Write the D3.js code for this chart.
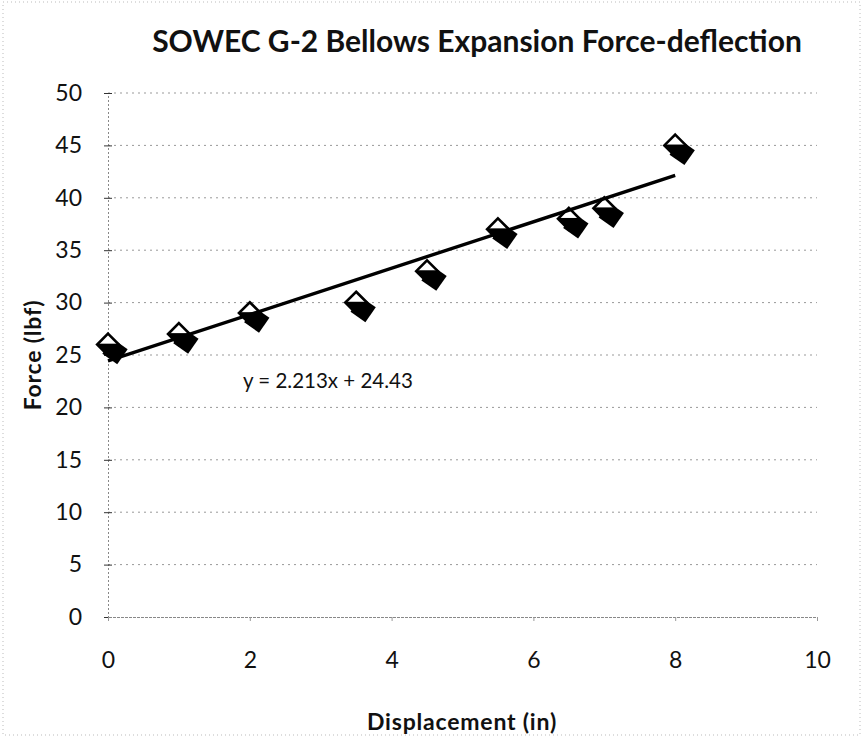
<!DOCTYPE html>
<html lang="en">
  <head>
    <meta charset="utf-8">
    <title>SOWEC G-2 Bellows Expansion Force-deflection</title>
    <script type="text/javascript" src="https://cdn.jsdelivr.net/npm/d3@7"></script>
    <style>
      body { margin: 0; background: #fff; }
      svg { display: block; font-family: Lato, "Open Sans", sans-serif; }
      .axis-title { font-size: 23px; font-weight: bold; fill: #111; letter-spacing: 0.8px; }
    </style>
  </head>
  <body>
    <script type="text/javascript">
      // data
      var displacement = [0, 1, 2, 3.5, 4.5, 5.5, 6.5, 7, 8];
      var force = [26, 27, 29, 30, 33, 37, 38, 39, 45];
      var xTicks = [0, 2, 4, 6, 8, 10];
      var yTicks = [0, 5, 10, 15, 20, 25, 30, 35, 40, 45, 50];
      var slope = 2.213;
      var intercept = 24.43;

      var w = 863;
      var h = 738;

      var svg = d3.select("body")
        .append("svg")
        .attr("width", w)
        .attr("height", h);

      // faint outer border of the chart area
      svg.append("rect")
        .attr("x", 3).attr("y", 2)
        .attr("width", w - 6).attr("height", h - 5)
        .attr("fill", "none")
        .attr("stroke", "#bbb")
        .attr("stroke-dasharray", "1,3");

      var xScale = d3.scaleLinear().domain([0, 10]).range([108, 817]);
      var yScale = d3.scaleLinear().domain([0, 50]).range([617, 93]);

      // gridlines
      svg.selectAll(".grid")
        .data(yTicks.slice(1))
        .enter()
        .append("line")
        .attr("class", "grid")
        .attr("x1", xScale(0))
        .attr("x2", xScale(10))
        .attr("y1", function(d) { return yScale(d); })
        .attr("y2", function(d) { return yScale(d); })
        .attr("stroke", "#999")
        .attr("stroke-width", 1)
        .attr("stroke-dasharray", "2,4");

      // y axis
      var yAxis = d3.axisLeft(yScale)
        .tickValues(yTicks)
        .tickSize(4)
        .tickPadding(22);
      var gy = svg.append("g")
        .attr("transform", "translate(" + xScale(0) + ",0)")
        .call(yAxis);
      gy.select(".domain").attr("stroke", "#888").attr("stroke-dasharray", "2,2");
      gy.selectAll(".tick line").attr("x1", 4).attr("x2", -4).attr("stroke", "#333");
      gy.selectAll("text")
        .attr("fill", "#111")
        .style("font-family", "Lato, sans-serif")
        .style("font-size", "23px");

      // x axis
      var xAxis = d3.axisBottom(xScale)
        .tickValues(xTicks)
        .tickSize(4)
        .tickPadding(31);
      var gx = svg.append("g")
        .attr("transform", "translate(0," + yScale(0) + ")")
        .call(xAxis);
      gx.select(".domain").attr("stroke", "#888").attr("stroke-dasharray", "3,1");
      gx.selectAll(".tick line").attr("stroke", "#999");
      gx.selectAll("text")
        .attr("fill", "#111")
        .style("font-family", "Lato, sans-serif")
        .style("font-size", "23px");

      // marker fill: white top half, black lower half
      var grad = svg.append("defs")
        .append("linearGradient")
        .attr("id", "half")
        .attr("x1", 0).attr("y1", 0).attr("x2", 0).attr("y2", 1);
      grad.append("stop").attr("offset", "44%").attr("stop-color", "#fff");
      grad.append("stop").attr("offset", "48%").attr("stop-color", "#000");

      var pts = displacement.map(function(d, i) { return [d, force[i]]; });
      var diamond = d3.symbol().type(d3.symbolDiamond2).size(300);
      var shadowShape = d3.symbol().type(d3.symbolSquare).size(330);

      svg.selectAll(".shadow")
        .data(pts)
        .enter()
        .append("path")
        .attr("class", "shadow")
        .attr("d", shadowShape)
        .attr("transform", function(d) {
          return "translate(" + (xScale(d[0]) + 7) + "," + (yScale(d[1]) + 7) + ") rotate(35)";
        })
        .attr("fill", "#000");

      svg.selectAll(".marker")
        .data(pts)
        .enter()
        .append("path")
        .attr("class", "marker")
        .attr("d", diamond)
        .attr("transform", function(d) {
          return "translate(" + xScale(d[0]) + "," + yScale(d[1]) + ")";
        })
        .attr("fill", "url(#half)")
        .attr("stroke", "#000")
        .attr("stroke-width", 2.6);

      // linear trendline
      var xMin = d3.min(displacement), xMax = d3.max(displacement);
      svg.append("line")
        .attr("x1", xScale(xMin))
        .attr("y1", yScale(slope * xMin + intercept))
        .attr("x2", xScale(xMax))
        .attr("y2", yScale(slope * xMax + intercept))
        .attr("stroke", "#000")
        .attr("stroke-width", 3.4);

      svg.append("text")
        .attr("x", 243)
        .attr("y", 388)
        .style("font-size", "20.5px")
        .attr("fill", "#111")
        .text("y = " + slope + "x + " + intercept);

      // titles
      svg.append("text")
        .attr("x", 477)
        .attr("y", 52)
        .attr("text-anchor", "middle")
        .style("font-size", "30px")
        .style("font-weight", "bold")
        .attr("fill", "#111")
        .text("SOWEC G-2 Bellows Expansion Force-deflection");

      svg.append("text")
        .attr("class", "axis-title")
        .attr("x", 462)
        .attr("y", 730)
        .attr("text-anchor", "middle")
        .text("Displacement (in)");

      svg.append("text")
        .attr("class", "axis-title")
        .attr("transform", "translate(41,355) rotate(-90)")
        .attr("text-anchor", "middle")
        .text("Force (lbf)");
    </script>
  </body>
</html>
